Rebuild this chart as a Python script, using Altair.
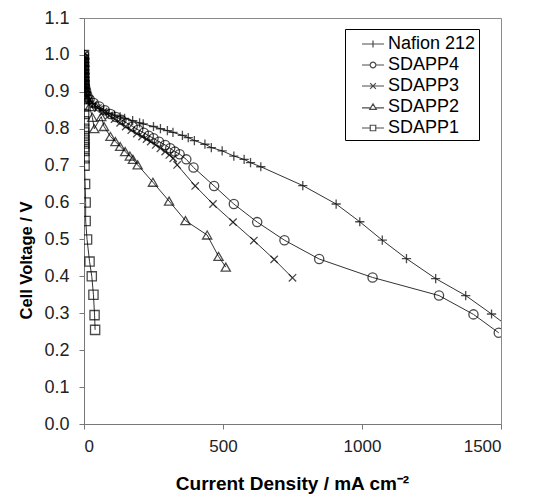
import altair as alt
import pandas as pd

series_names = ["Nafion 212", "SDAPP4", "SDAPP3", "SDAPP2", "SDAPP1"]

nafion_x = [0, 0.2, 0.4, 0.6, 0.8, 1.0, 1.5, 2, 3, 4, 6, 10, 15, 20, 30, 41, 55, 70, 88, 110,
            130, 146, 175, 200, 213, 250, 275, 300, 320, 354, 375, 397, 435, 458, 497, 539, 576, 599, 636, 787,
            907, 992, 1073, 1160, 1265, 1373, 1466, 1560]
nafion_y = [1.0, 0.99, 0.98, 0.97, 0.96, 0.95, 0.94, 0.93, 0.92, 0.91, 0.90, 0.89, 0.882, 0.875, 0.868, 0.86, 0.855, 0.85, 0.842, 0.837,
            0.832, 0.828, 0.822, 0.816, 0.813, 0.806, 0.8, 0.795, 0.79, 0.782, 0.776, 0.768, 0.758, 0.749, 0.74, 0.726, 0.717, 0.708, 0.697, 0.646,
            0.596, 0.548, 0.498, 0.448, 0.394, 0.348, 0.298, 0.245]

sdapp4_x = [0, 0.2, 0.4, 0.6, 0.8, 1.0, 1.5, 2, 3, 5, 8, 12, 20, 35, 55, 75, 95, 115, 135, 155,
            175, 195, 215, 233, 250, 270, 292, 310, 327, 344, 368, 394, 468, 539, 623, 721, 846, 1038, 1277, 1401,
            1492]
sdapp4_y = [1.0, 0.99, 0.98, 0.97, 0.96, 0.95, 0.94, 0.93, 0.92, 0.91, 0.90, 0.89, 0.88, 0.87, 0.86, 0.85, 0.84, 0.832, 0.824, 0.815,
            0.806, 0.797, 0.789, 0.781, 0.774, 0.765, 0.756, 0.747, 0.738, 0.731, 0.717, 0.695, 0.645, 0.596, 0.547, 0.498, 0.447, 0.397, 0.348, 0.297,
            0.247]

sdapp3_x = [0, 0.2, 0.4, 0.6, 0.8, 1.0, 1.5, 2, 3, 5, 8, 12, 20, 35, 50, 70, 90, 110, 130, 150,
            170, 190, 209, 225, 240, 258, 275, 292, 307, 321, 335, 400, 464, 536, 611, 684, 750]
sdapp3_y = [1.0, 0.99, 0.98, 0.97, 0.96, 0.95, 0.94, 0.93, 0.92, 0.91, 0.90, 0.89, 0.878, 0.866, 0.856, 0.846, 0.836, 0.826, 0.816, 0.806,
            0.796, 0.787, 0.779, 0.772, 0.765, 0.756, 0.747, 0.738, 0.729, 0.720, 0.702, 0.645, 0.596, 0.547, 0.497, 0.446, 0.396]

sdapp2_x = [0, 0.2, 0.4, 0.6, 0.8, 1.0, 1.5, 2, 3, 5, 8, 12, 20, 30, 37, 62, 72, 95, 113, 130,
            148, 165, 176, 193, 248, 306, 365, 443, 484, 510]
sdapp2_y = [1.0, 0.99, 0.98, 0.97, 0.96, 0.95, 0.94, 0.93, 0.92, 0.91, 0.90, 0.88, 0.86, 0.831, 0.80, 0.833, 0.806, 0.779, 0.765, 0.752,
            0.738, 0.726, 0.717, 0.702, 0.655, 0.604, 0.551, 0.512, 0.454, 0.425]

sdapp1_x = [0, 0, 0.1, 0.1, 0.2, 0.3, 0.4, 0.5, 0.6, 0.7, 0.8, 0.9, 1.0, 1.1, 1.2, 1.3, 1.5, 1.7, 2.0, 4,
            6, 6, 11, 20, 28, 34, 38, 40]
sdapp1_y = [1.0, 0.98, 0.96, 0.94, 0.92, 0.90, 0.88, 0.86, 0.84, 0.82, 0.80, 0.79, 0.78, 0.77, 0.76, 0.75, 0.74, 0.72, 0.70, 0.65,
            0.60, 0.55, 0.50, 0.44, 0.40, 0.35, 0.295, 0.255]

x_ticks = [0, 500, 1000, 1500]
y_ticks = [0.0, 0.1, 0.2, 0.3, 0.4, 0.5, 0.6, 0.7, 0.8, 0.9, 1.0, 1.1]

rows = []
for name, xs, ys in zip(series_names,
                        [nafion_x, sdapp4_x, sdapp3_x, sdapp2_x, sdapp1_x],
                        [nafion_y, sdapp4_y, sdapp3_y, sdapp2_y, sdapp1_y]):
    for i, (a, b) in enumerate(zip(xs, ys)):
        rows.append({"series": name, "cd": a, "v": b, "i": i})
df = pd.DataFrame(rows)

plot_shapes = [
    "M-1,0L1,0M0,-1L0,1",
    "circle",
    "M-0.8,-0.8L0.8,0.8M-0.8,0.8L0.8,-0.8",
    "triangle-up",
    "square",
]
legend_shapes = [
    "M-1,0L1,0M0,-0.32L0,0.32",
    "M-1,0L-0.26,0M0.26,0L1,0M-0.26,0A0.26,0.26 0 1,0 0.26,0A0.26,0.26 0 1,0 -0.26,0",
    "M-1,0L1,0M-0.26,-0.26L0.26,0.26M-0.26,0.26L0.26,-0.26",
    "M-1,0.08L-0.22,0.08M0.22,0.08L1,0.08M0,-0.28L0.3,0.22L-0.3,0.22Z",
    "M-1,0L-0.25,0M0.25,0L1,0M-0.25,-0.25L0.25,-0.25L0.25,0.25L-0.25,0.25Z",
]

x_enc = alt.X("cd:Q",
              scale=alt.Scale(domain=[0, 1500], nice=False, zero=False),
              axis=alt.Axis(values=x_ticks, format="d", title="Current Density / mA cm⁻²",
                            tickSize=5, labelPadding=9, labelFontSize=17, titleFontSize=19,
                            titleX=208, titleY=65, titleBaseline="alphabetic"))
y_enc = alt.Y("v:Q",
              scale=alt.Scale(domain=[0, 1.1], nice=False),
              axis=alt.Axis(values=y_ticks, format=".1f", title="Cell Voltage / V",
                            tickSize=5, labelPadding=10, labelFontSize=18, titleFontSize=16.5,
                            titleX=-58, titleY=242, titleAngle=270,
                            titleAlign="center", titleBaseline="middle"))

base = alt.Chart(df)

lines = base.mark_line(color="#333333", strokeWidth=1, clip=True).encode(
    x=x_enc, y=y_enc, detail="series:N", order="i:Q")

pts = base.mark_point(filled=False, color="black", strokeWidth=1.3, size=85, clip=True).encode(
    x=x_enc, y=y_enc,
    shape=alt.Shape("series:N", scale=alt.Scale(domain=series_names, range=plot_shapes), legend=None))

leg = base.transform_filter("datum.v > 5").mark_point(filled=False, color="black", strokeWidth=1.2).encode(
    x=x_enc, y=y_enc,
    shape=alt.Shape("series:N", scale=alt.Scale(domain=series_names, range=legend_shapes),
                    sort=series_names,
                    legend=alt.Legend(title=None, orient="none", legendX=261, legendY=11,
                                      strokeColor="black", fillColor="white", padding=3,
                                      symbolSize=484, symbolOffset=13, rowPadding=0,
                                      labelOffset=3, symbolStrokeColor="black",
                                      symbolFillColor="transparent", symbolStrokeWidth=1.2,
                                      labelFont="Liberation Sans", labelFontSize=18,
                                      labelColor="black",
                                      labelExpr="datum.label + '\u00a0\u00a0'")))

chart = alt.layer(lines, pts, leg).resolve_scale(shape="independent").properties(
    width=417, height=406, autosize="none",
    padding={"left": 84, "top": 18, "right": 37, "bottom": 71},
).configure_view(stroke="#8a8a8a", strokeWidth=1).configure_axis(
    grid=False, domainColor="#777777", tickColor="#777777",
    labelFont="Liberation Sans", labelColor="#222222",
    titleFont="Liberation Sans", titleFontWeight="bold", titleColor="black",
)

chart.save("out.html", embed_options={"renderer": "svg", "actions": False})
